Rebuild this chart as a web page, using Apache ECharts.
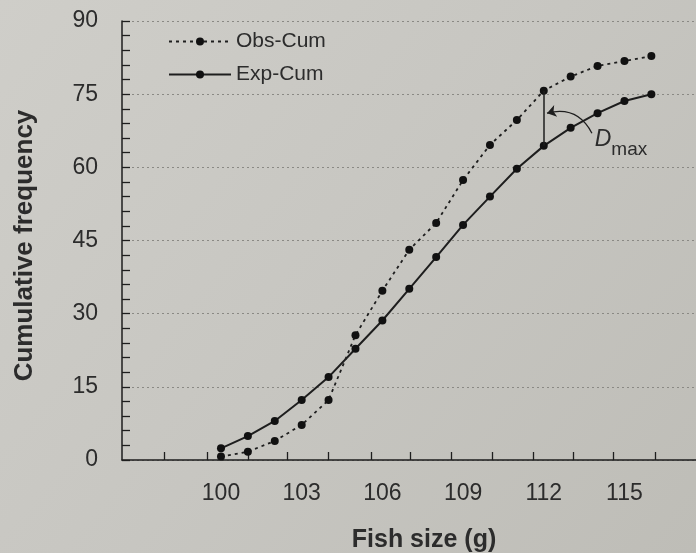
<!DOCTYPE html>
<html><head><meta charset="utf-8">
<script src="https://cdn.jsdelivr.net/npm/echarts@6/dist/echarts.min.js"></script>
<style>html,body{margin:0;padding:0;background:#c6c5c0}#c{width:696px;height:553px}</style>
</head><body><div id="c"></div>
<script>
// ---- data ----
const fishSize = [100,101,102,103,104,105,106,107,108,109,110,111,112,113,114,115,116];
const obsCum  = [0.7,1.7,3.9,7.2,12.3,25.6,34.7,43.1,48.6,57.4,64.6,69.7,75.7,78.6,80.8,81.8,82.8];
const expCum  = [2.4,4.9,8.0,12.3,17.0,22.8,28.6,35.1,41.6,48.2,54.0,59.7,64.4,68.1,71.1,73.6,75.0];
const xLabelValues = [100,103,106,109,112,115];
const xTickValues  = [97.9,99.5,101,102.45,104,105.6,107.05,108.55,110.1,111.6,113.1,114.6,116.15];
const yTickLabels  = [0,15,30,45,60,75,90];
const dmaxIndex = 12;                 // at 112 g
const dmaxLabelAt = [114.87, 65.6];   // annotation anchor (data coords)
const arrowTip  = [112.12, 71.1];
const arrowTail = [113.79, 67.0];

const FONT = '"Liberation Sans", Arial, Helvetica, sans-serif';
const INK = '#1e1e1e';
const TXT = '#2c2c2c';

const chart = echarts.init(document.getElementById('c'), null, {renderer:'canvas'});
chart.setOption({
  animation: false,
  backgroundColor: {type:'linear', x:0, y:0, x2:1, y2:1,
    colorStops:[{offset:0,color:'#cfcec9'},{offset:0.5,color:'#c7c6c1'},{offset:1,color:'#bebdb7'}]},
  textStyle: {fontFamily: FONT, color: TXT},
  grid: {left:122, right:0, top:21, bottom:93, containLabel:false, outerBoundsMode:'none'},
  legend: {
    data:['Obs-Cum','Exp-Cum'], orient:'vertical', left:168, top:31, padding:0,
    itemWidth:62, itemHeight:10, itemGap:12,
    textStyle:{fontSize:21, color:TXT, fontFamily:FONT}
  },
  xAxis: {
    type:'value', min:96.32, max:117.66,
    name:'Fish size (g)', nameLocation:'middle', nameGap:68,
    nameTextStyle:{fontSize:25, fontWeight:'bold', color:TXT, padding:[0,0,0,30], fontFamily:FONT},
    axisLine:{show:true, onZero:false, lineStyle:{color:INK, width:1.5}},
    axisTick:{show:true, inside:true, length:8, customValues:xTickValues, lineStyle:{color:INK, width:1.3}},
    axisLabel:{customValues:xLabelValues, margin:22, fontSize:23, color:TXT, fontFamily:FONT},
    splitLine:{show:false}
  },
  yAxis: {
    type:'value', min:0, max:90, interval:15,
    name:'Cumulative frequency', nameLocation:'middle', nameGap:84,
    nameTextStyle:{fontSize:26, fontWeight:'bold', color:TXT, padding:[0,10,0,0], fontFamily:FONT},
    axisLine:{show:true, lineStyle:{color:INK, width:1.5}},
    axisTick:{show:true, inside:true, length:8, lineStyle:{color:INK, width:1.3}},
    minorTick:{show:true, splitNumber:5, length:8, lineStyle:{color:INK, width:1.3}},
    axisLabel:{margin:24, fontSize:23, color:TXT, fontFamily:FONT,
      formatter:v => yTickLabels.indexOf(v) >= 0 ? String(v) : ''},
    splitLine:{show:true, lineStyle:{type:[2,3], color:'#8a8984', width:1}}
  },
  series: [
    {
      name:'Obs-Cum', type:'line', z:3,
      data: fishSize.map((x,i)=>[x, obsCum[i]]),
      symbol:'circle', symbolSize:8, showSymbol:true,
      lineStyle:{type:[3,4], width:1.8, color:INK},
      itemStyle:{color:'#111'},
      markLine:{
        silent:true, animation:false, symbol:['none','none'],
        label:{show:false},
        lineStyle:{type:'solid', color:INK, width:1.5},
        data:[[{coord:[fishSize[dmaxIndex], obsCum[dmaxIndex]]},{coord:[fishSize[dmaxIndex], expCum[dmaxIndex]]}]]
      },
      markPoint:{
        silent:true, animation:false, symbol:'circle', symbolSize:1,
        itemStyle:{color:'rgba(0,0,0,0)'},
        label:{show:true, position:'inside', color:TXT,
          formatter:'{d|D}{m|max}',
          rich:{
            d:{fontSize:23, fontStyle:'italic', lineHeight:24, verticalAlign:'top', fontFamily:FONT, color:TXT},
            m:{fontSize:19, lineHeight:19, padding:[12,0,0,0], verticalAlign:'top', fontFamily:FONT, color:TXT}
          }},
        data:[{coord:dmaxLabelAt}]
      }
    },
    {
      name:'Exp-Cum', type:'line', z:3,
      data: fishSize.map((x,i)=>[x, expCum[i]]),
      symbol:'circle', symbolSize:8, showSymbol:true,
      lineStyle:{type:'solid', width:2, color:INK},
      itemStyle:{color:'#111'}
    },
    {
      name:'Dmax arrow', type:'lines', coordinateSystem:'cartesian2d', z:4, silent:true,
      symbol:['arrow','none'], symbolSize:[9,9],
      lineStyle:{color:INK, width:1.3, curveness:0.4, opacity:1},
      data:[{coords:[arrowTip, arrowTail]}]
    }
  ]
});
</script></body></html>
